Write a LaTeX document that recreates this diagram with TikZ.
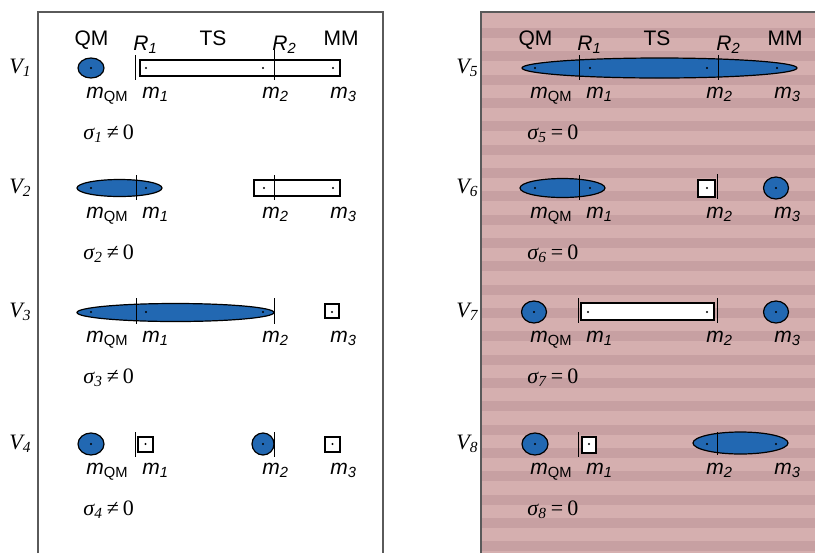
\documentclass[tikz,border=0pt]{standalone}
\usepackage{fontspec}
\setmainfont{Liberation Sans}
\newfontfamily\timesfont{Liberation Serif}

\definecolor{blobblue}{RGB}{34,104,178}
\definecolor{stripelight}{RGB}{213,175,175}
\definecolor{stripedark}{RGB}{199,160,162}
\definecolor{framegray}{RGB}{90,90,90}

\newcommand{\mlab}[1]{\textit{m}\textsubscript{#1}}
\newcommand{\mnum}[1]{\textit{m\textsubscript{#1}}}
\newcommand{\Vlab}[1]{{\timesfont\textit{V\textsubscript{#1}}}}
\newcommand{\siglab}[2]{{\timesfont\textit{σ\textsubscript{#1}}\hspace{0.18em}#2\hspace{0.18em}0}}

\tikzset{
  blob/.style={draw=black, fill=blobblue, line width=0.6pt},
  seg/.style={draw=black, fill=white, line width=0.55pt},
  rcut/.style={draw=black, line width=0.4pt},
  hdr/.style={anchor=base, inner sep=0pt, font=\fontsize{10.5}{12}\selectfont},
  lab/.style={anchor=base west, inner sep=0pt, font=\fontsize{10.5}{12}\selectfont},
  vlab/.style={anchor=base west, inner sep=0pt, font=\fontsize{11}{13}\selectfont},
}

\begin{document}
\begin{tikzpicture}[x=0.5pt, y=-0.5pt]
\useasboundingbox (0,0) rectangle (815,553);

% striped background of the right panel
\fill[stripelight] (481,12) rectangle (815,553);
\foreach \i in {1,...,23}
  \fill[stripedark] (481,{4.7+23.33*\i}) rectangle (815,{14.7+23.33*\i});

% panel frames
\draw[framegray, line width=0.6pt] (38,553) -- (38,12) -- (383,12) -- (383,553);
\draw[framegray, line width=0.6pt] (481,553) -- (481,12) -- (815,12);

% V labels
\foreach \r/\y in {1/68,2/188,3/312,4/444}{
  \pgfmathtruncatemacro\rr{\r+4}
  \node[vlab] (v\r) at (9,{\y+5}) {\Vlab{\r}};
  \node[vlab] (v\rr) at (456,{\y+5}) {\Vlab{\rr}};
}

% headers and mass labels, both panels
\foreach \s/\k/\rel in {0/0/≠,222/4/=}{
  \begin{scope}[xshift=\s pt]
    \node[hdr] (qm\k) at (91.5,45) {QM};
    \node[hdr] (ts\k) at (213,45) {TS};
    \node[hdr] (mm\k) at (341,45) {MM};
    \node[lab] (ra\k) at (133,50) {\textit{R\textsubscript{1}}};
    \node[lab] (rb\k) at (272,50) {\textit{R\textsubscript{2}}};
    \foreach \r/\y in {1/68,2/188,3/312,4/444}{
      \pgfmathtruncatemacro\n{\r+\k}
      \node[lab] (mq\n) at (86,{\y+30}) {\mlab{QM}};
      \node[lab] (ma\n) at (142,{\y+30}) {\mnum{1}};
      \node[lab] (mb\n) at (262,{\y+30}) {\mnum{2}};
      \node[lab] (mc\n) at (330,{\y+30}) {\mnum{3}};
      \node[vlab] (s\n) at (83,{\y+71}) {\siglab{\n}{\rel}};
    }
  \end{scope}
}

% V1
\draw[blob] (91,68) ellipse [x radius=13, y radius=10];
\draw[rcut] (135,55) -- (135,80);
\draw[seg] (140,60) rectangle (340,76);
\draw[rcut] (274,50) -- (274,80);
\foreach \x in {91,146,263,333} \fill (\x,68) circle (1.1);

% V2
\draw[blob] (119.5,188) ellipse [x radius=42.5, y radius=8.5];
\draw[rcut] (136,175) -- (136,200);
\draw[seg] (254,180) rectangle (340,196);
\draw[rcut] (274,175) -- (274,200);
\foreach \x in {91,146,264,333} \fill (\x,188) circle (1.1);

% V3
\draw[blob] (175.5,312.5) ellipse [x radius=98.5, y radius=9];
\draw[rcut] (136,298) -- (136,324);
\draw[rcut] (274,298) -- (274,324);
\draw[seg] (325,304) rectangle (339,318);
\foreach \x in {91,146,263,332} \fill (\x,312) circle (1.1);

% V4
\draw[blob] (91,444) ellipse [x radius=13, y radius=11];
\draw[rcut] (135,432) -- (135,457);
\draw[seg] (138,437) rectangle (153,452);
\draw[blob] (263,444) ellipse [x radius=11, y radius=11];
\draw[rcut] (274,432) -- (274,457);
\draw[seg] (325,437) rectangle (340,452);
\foreach \x in {91,145.5,263,332.5} \fill (\x,444) circle (1.1);

\begin{scope}[xshift=222pt]
% V5
\draw[blob] (215.5,68) ellipse [x radius=137.5, y radius=10];
\draw[rcut] (135,55) -- (135,80);
\draw[rcut] (274,55) -- (274,80);
\foreach \x in {91,146,263,333} \fill (\x,68) circle (1.1);

% V6
\draw[blob] (118.5,188) ellipse [x radius=42.5, y radius=9.5];
\draw[rcut] (135,175) -- (135,200);
\draw[seg] (254,180) rectangle (271,197);
\draw[rcut] (273,174) -- (273,199);
\draw[blob] (332,188) ellipse [x radius=12.5, y radius=11];
\foreach \x in {91,146,263,332} \fill (\x,188) circle (1.1);

% V7
\draw[blob] (90,312) ellipse [x radius=12.5, y radius=11];
\draw[rcut] (134,298) -- (134,323);
\draw[seg] (137,303) rectangle (270,320);
\draw[rcut] (273,298) -- (273,323);
\draw[blob] (332,312) ellipse [x radius=12.5, y radius=11];
\foreach \x in {90,144,263,332} \fill (\x,312) circle (1.1);

% V8
\draw[blob] (91,444) ellipse [x radius=13, y radius=11];
\draw[rcut] (134,432) -- (134,457);
\draw[seg] (138,437) rectangle (152,453);
\draw[blob] (296.5,443) ellipse [x radius=47.5, y radius=11];
\draw[rcut] (273,432) -- (273,455);
\foreach \x in {91,145,263,332} \fill (\x,444) circle (1.1);
\end{scope}
\end{tikzpicture}
\end{document}
